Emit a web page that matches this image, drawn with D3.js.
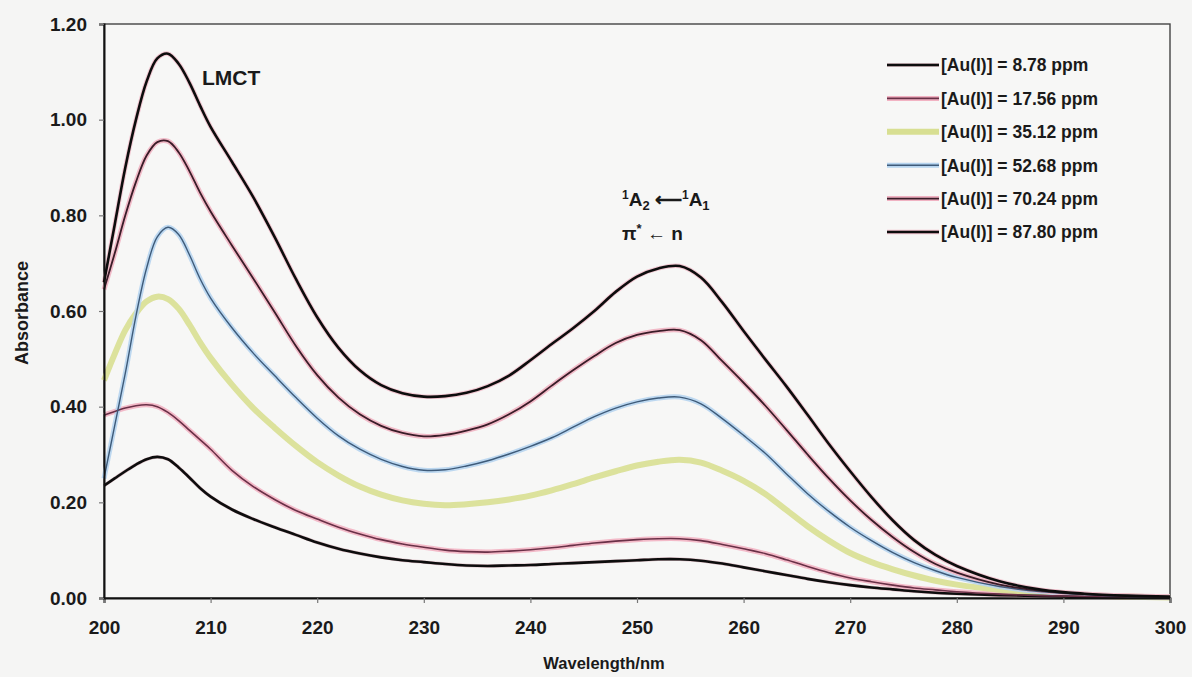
<!DOCTYPE html>
<html>
<head>
<meta charset="utf-8">
<script src="https://cdn.jsdelivr.net/npm/d3@7"></script>
<style>
  html, body { margin: 0; padding: 0; background: #f5f5f4; }
  svg { display: block; }
  text { font-family: "Liberation Sans", Arial, sans-serif; font-weight: bold; fill: #1a1a1a; }
</style>
</head>
<body>
<svg id="chart" width="1192" height="677"></svg>
<script>
// ---------- DATA ----------
const wavelengths = [200,201,202,203,204,205,206,207,208,209,210,
  212,214,216,218,220,222,224,226,228,230,232,234,236,238,240,242,244,246,248,250,
  252,254,256,258,260,262,264,266,268,270,272,274,276,278,280,
  284,288,292,296,300];

const seriesNames = ["[Au(I)] = 8.78 ppm","[Au(I)] = 17.56 ppm","[Au(I)] = 35.12 ppm",
                     "[Au(I)] = 52.68 ppm","[Au(I)] = 70.24 ppm","[Au(I)] = 87.80 ppm"];

const abs878 = [0.235,0.25,0.265,0.279,0.29,0.295,0.29,0.273,0.252,0.23,0.212,
  0.185,0.165,0.148,0.132,0.116,0.103,0.093,0.085,0.079,0.075,0.071,0.068,0.067,0.068,0.069,0.071,0.073,0.075,0.077,0.079,
  0.081,0.081,0.078,0.072,0.064,0.056,0.048,0.04,0.033,0.027,0.022,0.018,0.014,0.011,0.009,
  0.006,0.004,0.002,0.001,0.001];
const abs1756 = [0.382,0.39,0.397,0.402,0.404,0.40,0.388,0.371,0.351,0.331,0.311,
  0.267,0.233,0.206,0.183,0.165,0.148,0.134,0.122,0.113,0.106,0.10,0.097,0.096,0.098,0.101,0.105,0.11,0.115,0.119,0.122,
  0.124,0.124,0.12,0.112,0.103,0.093,0.08,0.066,0.053,0.042,0.034,0.027,0.021,0.017,0.013,
  0.008,0.005,0.003,0.002,0.001];
const abs3512 = [0.455,0.51,0.56,0.595,0.62,0.63,0.625,0.605,0.572,0.535,0.502,
  0.446,0.397,0.356,0.318,0.284,0.256,0.233,0.216,0.204,0.197,0.194,0.196,0.2,0.206,0.214,0.225,0.238,0.252,0.265,0.277,
  0.285,0.289,0.283,0.266,0.245,0.218,0.184,0.15,0.12,0.094,0.075,0.06,0.047,0.036,0.028,
  0.017,0.01,0.005,0.003,0.001];
const abs5268 = [0.25,0.36,0.47,0.59,0.69,0.755,0.775,0.76,0.718,0.668,0.627,
  0.565,0.512,0.465,0.419,0.376,0.339,0.311,0.29,0.275,0.267,0.268,0.276,0.287,0.301,0.317,0.335,0.357,0.379,0.397,0.41,
  0.418,0.42,0.406,0.375,0.34,0.303,0.26,0.218,0.181,0.148,0.12,0.095,0.074,0.057,0.043,
  0.024,0.013,0.007,0.003,0.002];
const abs7024 = [0.645,0.72,0.80,0.87,0.925,0.953,0.955,0.932,0.893,0.848,0.808,
  0.737,0.668,0.598,0.527,0.466,0.419,0.384,0.36,0.345,0.338,0.341,0.35,0.363,0.384,0.411,0.444,0.476,0.506,0.533,0.55,
  0.558,0.56,0.539,0.495,0.45,0.403,0.352,0.30,0.25,0.204,0.163,0.127,0.096,0.071,0.053,
  0.028,0.015,0.008,0.004,0.002];
const abs8780 = [0.66,0.78,0.90,1.00,1.08,1.128,1.138,1.117,1.078,1.03,0.985,
  0.912,0.838,0.755,0.667,0.587,0.523,0.476,0.445,0.428,0.421,0.422,0.429,0.443,0.465,0.497,0.531,0.564,0.6,0.64,0.672,
  0.689,0.694,0.67,0.618,0.558,0.50,0.443,0.383,0.322,0.265,0.211,0.162,0.121,0.09,0.067,
  0.035,0.017,0.009,0.005,0.003];

const xTicks = [200,210,220,230,240,250,260,270,280,290,300];
const yTicks = [0,0.2,0.4,0.6,0.8,1.0,1.2];

// ---------- STYLES ----------
const seriesValues = [abs878, abs1756, abs3512, abs5268, abs7024, abs8780];
const styles = [
  {halo: "#d9b8c0", haloW: 3.5, core: "#0d0d0d", coreW: 2.6},
  {halo: "#f2b3c3", haloW: 5,   core: "#6a3047", coreW: 1.6},
  {halo: "#d8df92", haloW: 6,   core: null,      coreW: 0},
  {halo: "#b6d4ef", haloW: 5,   core: "#3e5b7a", coreW: 1.4},
  {halo: "#f0b2c2", haloW: 5,   core: "#3a1c28", coreW: 1.8},
  {halo: "#f1c0cc", haloW: 4.5, core: "#0d0d0d", coreW: 2.6}
];

// ---------- LAYOUT ----------
const svg = d3.select("#chart");
const X0 = 104, X1 = 1170, Y0 = 598, Y1 = 24;
const x = d3.scaleLinear().domain([200, 300]).range([X0, X1]);
const y = d3.scaleLinear().domain([0, 1.2]).range([Y0, Y1]);

svg.append("rect").attr("x", X0).attr("y", Y1).attr("width", X1 - X0).attr("height", Y0 - Y1)
  .attr("fill", "#f7f7f6").attr("stroke", "#444").attr("stroke-width", 1.4);

const line = d3.line().x((d, i) => x(wavelengths[i])).y(d => y(d)).curve(d3.curveCatmullRom.alpha(0.5));

const g = svg.append("g");
seriesValues.forEach((vals, k) => {
  const s = styles[k];
  g.append("path").attr("d", line(vals)).attr("fill", "none")
    .attr("stroke", s.halo).attr("stroke-width", s.haloW).attr("stroke-linejoin", "round").attr("opacity", 0.9);
});
seriesValues.forEach((vals, k) => {
  const s = styles[k];
  if (!s.core) return;
  g.append("path").attr("d", line(vals)).attr("fill", "none")
    .attr("stroke", s.core).attr("stroke-width", s.coreW).attr("stroke-linejoin", "round");
});

// axes
const xAxis = d3.axisBottom(x).tickValues(xTicks).tickSize(5).tickPadding(18).tickFormat(d3.format("d"));
const yAxis = d3.axisLeft(y).tickValues(yTicks).tickSize(5).tickPadding(12).tickFormat(d3.format(".2f"));

const gx = svg.append("g").attr("transform", `translate(0,${Y0})`).call(xAxis);
const gy = svg.append("g").attr("transform", `translate(${X0},0)`).call(yAxis);
[gx, gy].forEach(a => {
  a.select(".domain").attr("stroke", "#111").attr("stroke-width", 2);
  a.selectAll(".tick line").attr("stroke", "#777").attr("stroke-width", 1.2);
  a.selectAll(".tick text").style("font-size", "19px").style("font-weight", "bold")
    .style("font-family", '"Liberation Sans", Arial, sans-serif').attr("fill", "#1a1a1a");
});

// axis titles
svg.append("text").attr("x", 604).attr("y", 669).attr("text-anchor", "middle")
  .style("font-size", "16.5px").text("Wavelength/nm");
svg.append("text").attr("transform", "translate(28,313) rotate(-90)").attr("text-anchor", "middle")
  .style("font-size", "18px").text("Absorbance");

// annotations
svg.append("text").attr("x", 202).attr("y", 85).style("font-size", "21px").text("LMCT");

const a1 = svg.append("text").attr("x", 622).attr("y", 206).style("font-size", "19px");
a1.append("tspan").attr("dy", -7).style("font-size", "12px").text("1");
a1.append("tspan").attr("dy", 7).text("A");
a1.append("tspan").attr("dy", 4).style("font-size", "13px").text("2");
a1.append("tspan").attr("dy", -4).text(" \u27F5");
a1.append("tspan").attr("dy", -7).style("font-size", "12px").text("1");
a1.append("tspan").attr("dy", 7).text("A");
a1.append("tspan").attr("dy", 4).style("font-size", "13px").text("1");

const a2 = svg.append("text").attr("x", 622).attr("y", 240).style("font-size", "19px");
a2.append("tspan").text("\u03c0");
a2.append("tspan").attr("dy", -7).style("font-size", "13px").text("*");
a2.append("tspan").attr("dy", 7).text(" \u2190 n");

// legend
const legRowY = d3.scaleLinear().domain([0, 5]).range([65, 232]);
seriesNames.forEach((name, k) => {
  const s = styles[k];
  const yy = legRowY(k);
  svg.append("line").attr("x1", 887).attr("x2", 939).attr("y1", yy).attr("y2", yy)
    .attr("stroke", s.halo).attr("stroke-width", s.haloW);
  if (s.core) svg.append("line").attr("x1", 887).attr("x2", 939).attr("y1", yy).attr("y2", yy)
    .attr("stroke", s.core).attr("stroke-width", s.coreW);
  svg.append("text").attr("x", 941).attr("y", yy).attr("dy", "0.36em")
    .style("font-size", "17.5px").text(name);
});
</script>
</body>
</html>
